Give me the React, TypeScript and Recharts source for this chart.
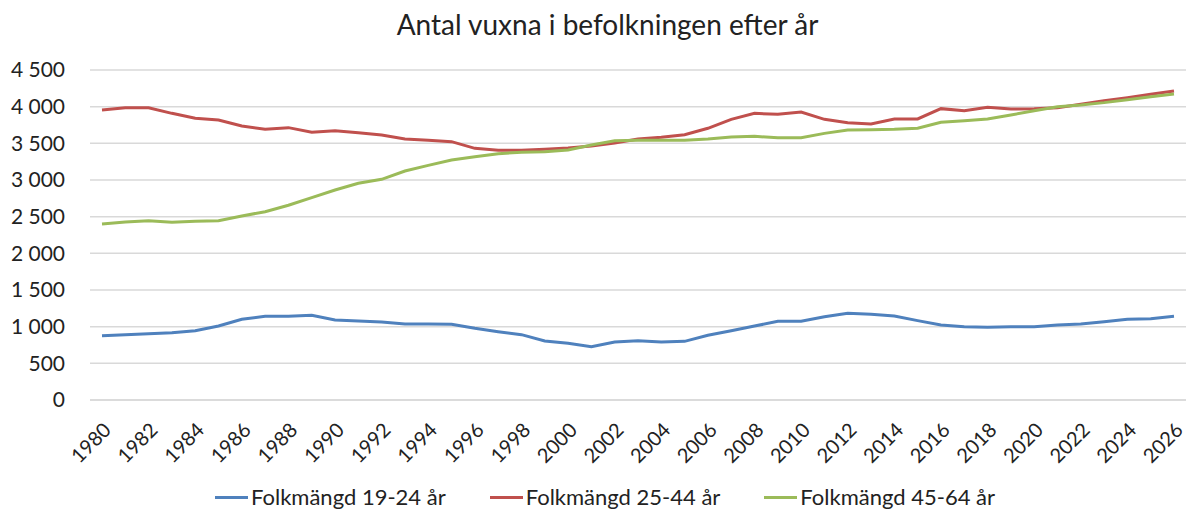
import { LineChart, Line, XAxis, YAxis, CartesianGrid, Legend } from "recharts";

const years = [
  "1980", "1981", "1982", "1983", "1984", "1985", "1986", "1987", "1988", "1989",
  "1990", "1991", "1992", "1993", "1994", "1995", "1996", "1997", "1998", "1999",
  "2000", "2001", "2002", "2003", "2004", "2005", "2006", "2007", "2008", "2009",
  "2010", "2011", "2012", "2013", "2014", "2015", "2016", "2017", "2018", "2019",
  "2020", "2021", "2022", "2023", "2024", "2025", "2026",
];

const age19to24 = [
  877, 891, 905, 918, 945, 1009, 1100, 1141, 1141, 1155,
  1091, 1077, 1064, 1036, 1036, 1032, 977, 932, 891, 805,
  773, 727, 791, 809, 791, 800, 882, 945, 1009, 1073,
  1073, 1136, 1182, 1168, 1145, 1082, 1023, 1000, 991, 1000,
  1000, 1023, 1036, 1068, 1100, 1109, 1141,
];

const age25to44 = [
  3955, 3986, 3986, 3909, 3841, 3818, 3736, 3691, 3714, 3650,
  3673, 3645, 3614, 3559, 3541, 3523, 3432, 3405, 3405, 3418,
  3436, 3464, 3505, 3559, 3582, 3618, 3705, 3827, 3909, 3895,
  3927, 3827, 3782, 3764, 3832, 3832, 3973, 3945, 3991, 3968,
  3973, 3986, 4032, 4082, 4123, 4168, 4214,
];

const age45to64 = [
  2400, 2427, 2445, 2423, 2436, 2445, 2509, 2568, 2655, 2759,
  2864, 2955, 3009, 3123, 3200, 3273, 3318, 3359, 3377, 3386,
  3409, 3477, 3536, 3541, 3541, 3541, 3559, 3586, 3595, 3577,
  3577, 3636, 3682, 3686, 3691, 3705, 3786, 3809, 3832, 3886,
  3945, 4000, 4023, 4055, 4095, 4136, 4173,
];

const yTicks = [0, 500, 1000, 1500, 2000, 2500, 3000, 3500, 4000, 4500];

const seriesNames = ["Folkmängd 19-24 år", "Folkmängd 25-44 år", "Folkmängd 45-64 år"];
const seriesColors = ["#4F81BD", "#C0504D", "#9BBB59"];

const data = years.map((year, i) => ({
  year,
  a: age19to24[i],
  b: age25to44[i],
  c: age45to64[i],
}));

const FONT = "Lato, 'Open Sans', sans-serif";

const fmt = (v: number) => {
  const s = String(v);
  return s.length > 3 ? s.slice(0, s.length - 3) + " " + s.slice(-3) : s;
};

const XTick = (props: any) => {
  const { x, y, payload } = props;
  return (
    <g transform={`translate(${x - 1},${y + 12})`}>
      <text
        transform="rotate(-45)"
        textAnchor="end"
        dominantBaseline="hanging"
        fontSize={20}
        fontFamily={FONT}
        fill="#222"
      >
        {payload.value}
      </text>
    </g>
  );
};

const LegendContent = () => (
  <div
    style={{
      display: "flex",
      justifyContent: "center",
      gap: 44,
      fontFamily: FONT,
      fontSize: 22,
      color: "#222",
      paddingLeft: 4,
      paddingTop: 13,
    }}
  >
    {seriesNames.map((name, i) => (
      <div key={name} style={{ display: "flex", alignItems: "center" }}>
        <span
          style={{
            display: "inline-block",
            width: 33,
            height: 3,
            background: seriesColors[i],
            marginRight: 3,
            marginTop: 2,
          }}
        />
        {name}
      </div>
    ))}
  </div>
);

export default function App() {
  return (
    <div
      style={{
        position: "absolute",
        left: 0,
        top: 0,
        width: 1187,
        height: 516,
        background: "#fff",
      }}
    >
      <div
        style={{
          position: "absolute",
          top: 7,
          left: 14,
          width: 1187,
          textAlign: "center",
          fontFamily: FONT,
          fontSize: 28,
          lineHeight: "34px",
          color: "#222",
        }}
      >
        Antal vuxna i befolkningen efter år
      </div>
      <LineChart
        width={1187}
        height={516}
        data={data}
        margin={{ top: 70, right: 1, left: 20, bottom: 0 }}
      >
        <CartesianGrid vertical={false} stroke="#d9d9d9" strokeWidth={1.5} />
        <XAxis
          dataKey="year"
          interval={1}
          height={70}
          padding={{ left: 12, right: 12 }}
          tick={<XTick />}
          tickLine={false}
          axisLine={{ stroke: "#d9d9d9", strokeWidth: 1.5 }}
        />
        <YAxis
          width={70}
          domain={[0, 4500]}
          ticks={yTicks}
          tickFormatter={fmt}
          tickLine={false}
          axisLine={false}
          tickSize={0}
          tickMargin={25}
          tick={{ fontSize: 21, fontFamily: FONT, fill: "#222" }}
        />
        <Legend verticalAlign="bottom" height={46} content={<LegendContent />} />
        <Line
          dataKey="a"
          name={seriesNames[0]}
          stroke={seriesColors[0]}
          strokeWidth={3}
          dot={false}
          isAnimationActive={false}
        />
        <Line
          dataKey="b"
          name={seriesNames[1]}
          stroke={seriesColors[1]}
          strokeWidth={3}
          dot={false}
          isAnimationActive={false}
        />
        <Line
          dataKey="c"
          name={seriesNames[2]}
          stroke={seriesColors[2]}
          strokeWidth={3}
          dot={false}
          isAnimationActive={false}
        />
      </LineChart>
    </div>
  );
}
